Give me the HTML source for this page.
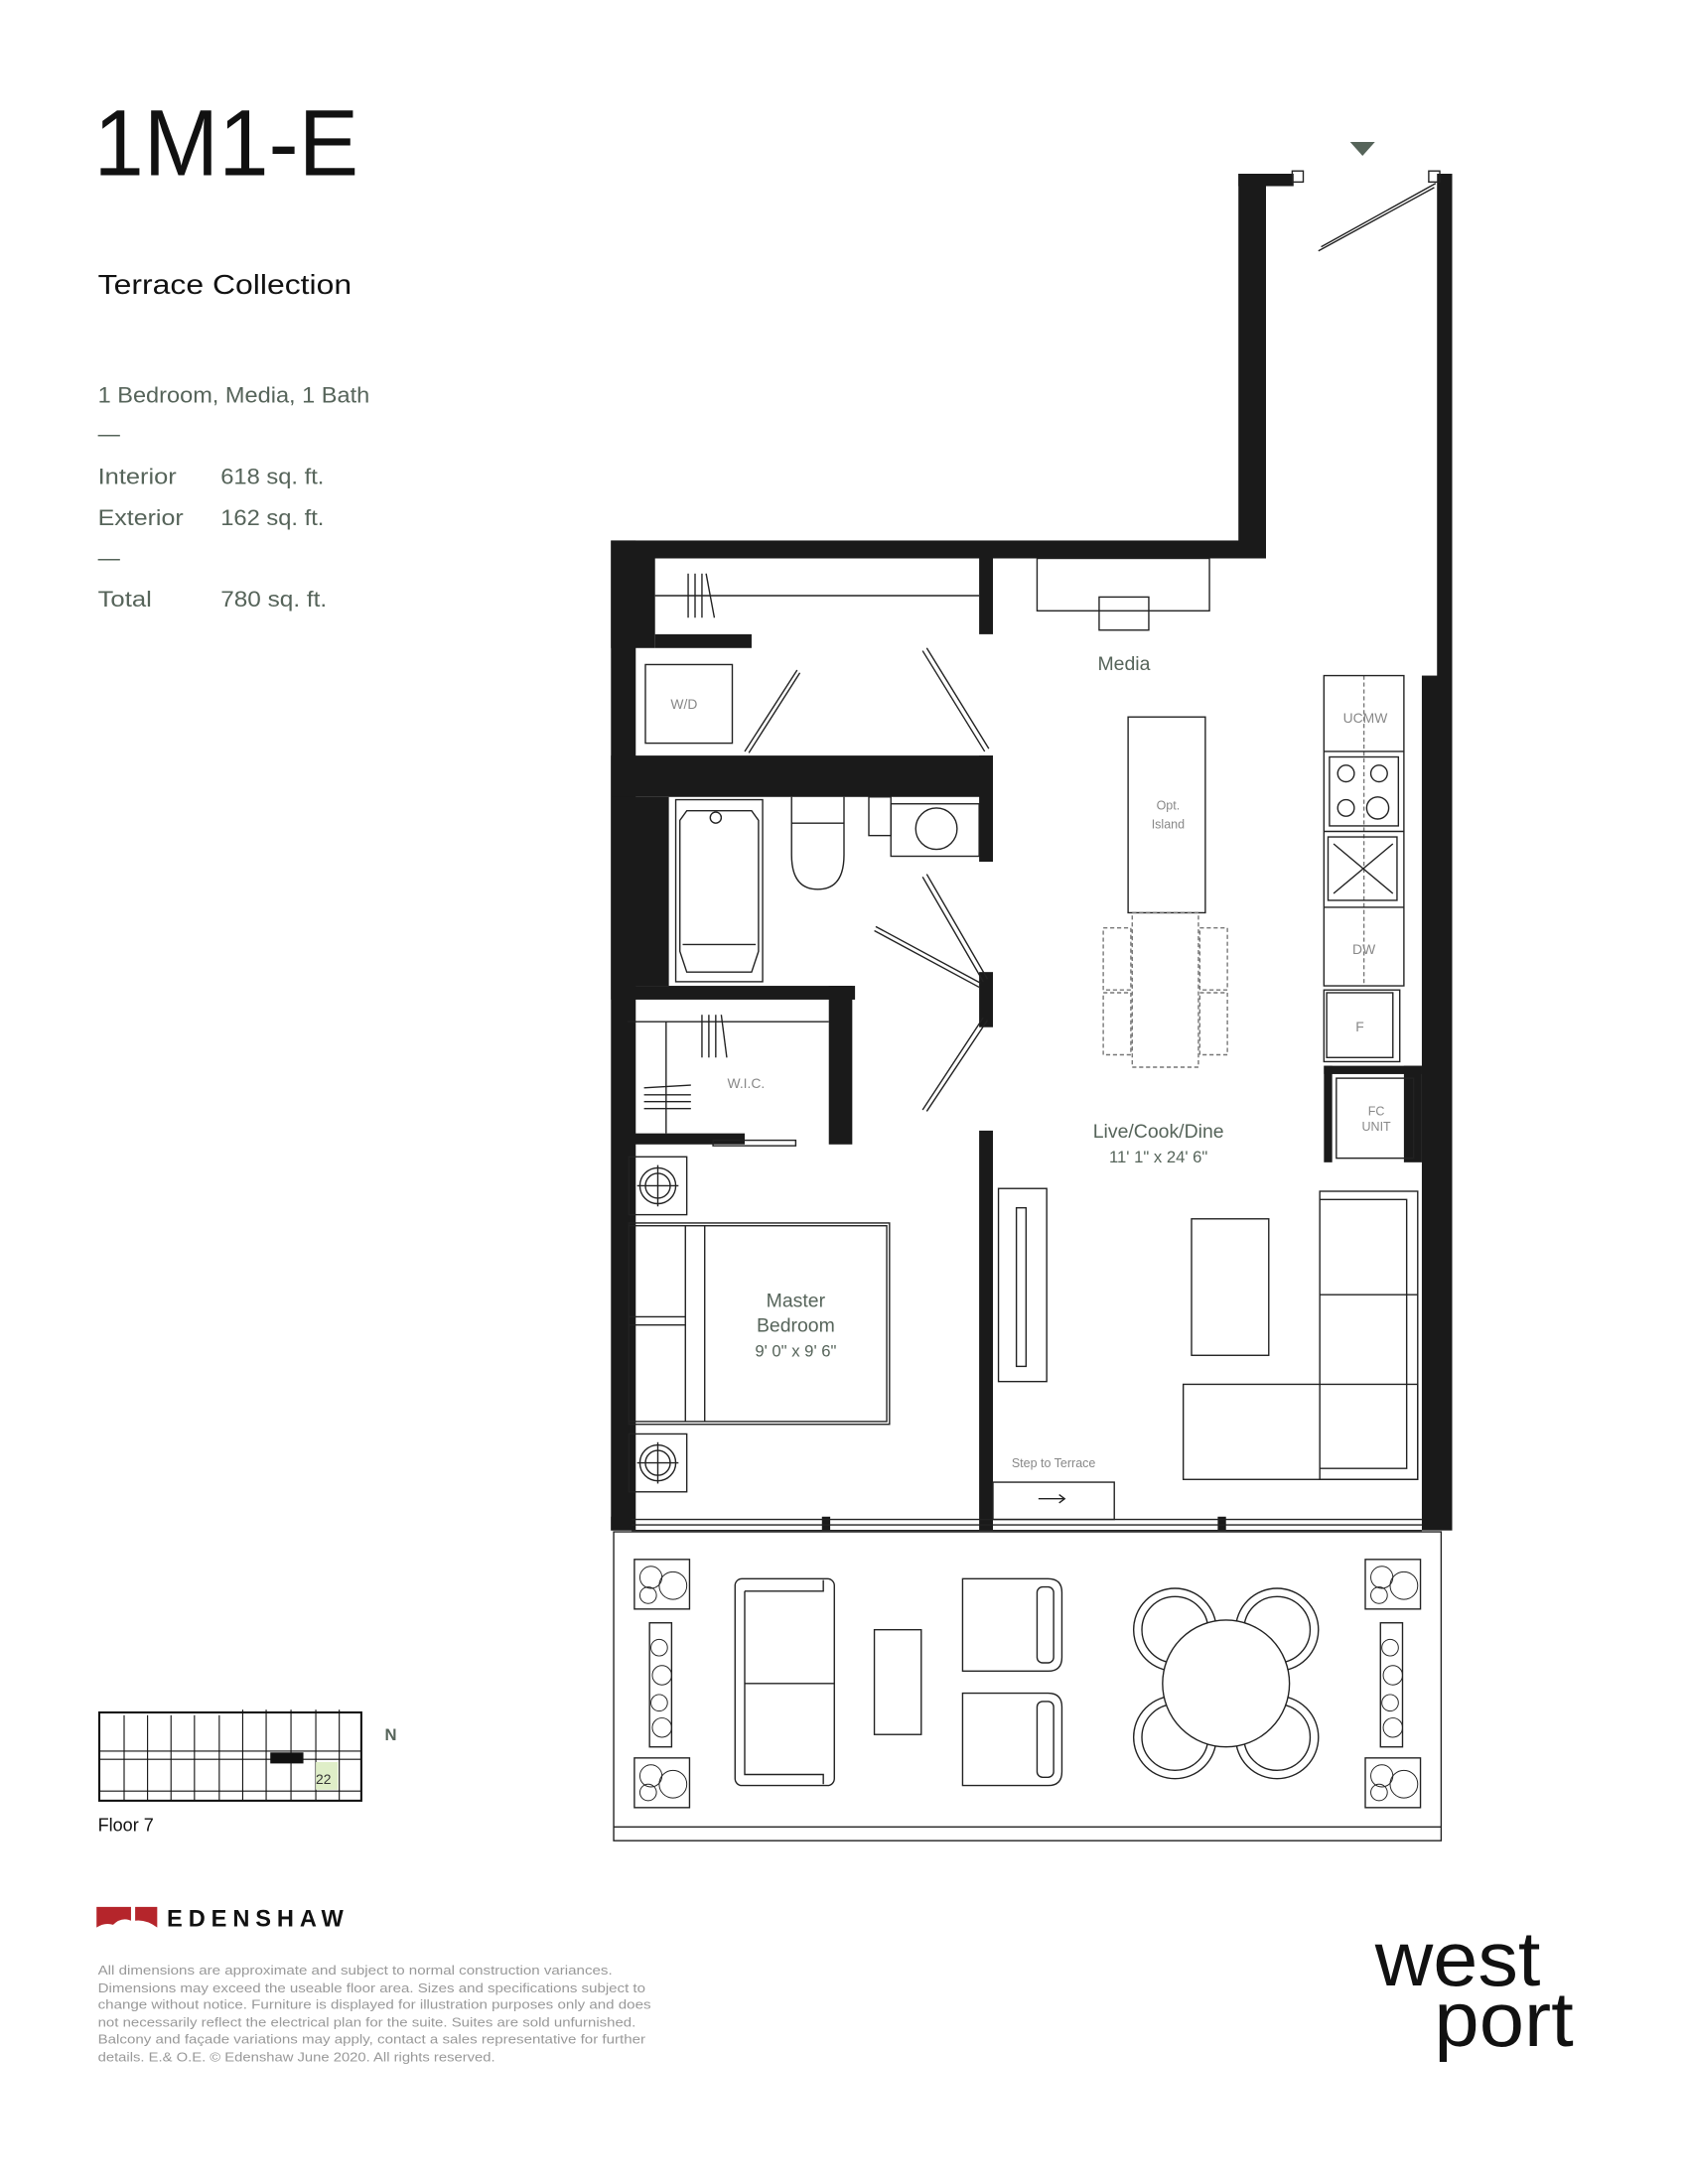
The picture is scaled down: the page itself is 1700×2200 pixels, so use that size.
<!DOCTYPE html>
<html><head><meta charset="utf-8"><style>
html,body{margin:0;padding:0;background:#fff;overflow:hidden;width:1700px;height:2200px;}
svg{display:block;position:absolute;left:0;top:0;}
text{font-family:"Liberation Sans",sans-serif;}
</style></head><body>
<svg width="1700" height="2200" viewBox="0 0 1224 1584" xmlns="http://www.w3.org/2000/svg">
<rect width="1224" height="1584" fill="#fff"/>
<text x="68" y="127" font-size="68" fill="#111" textLength="192" lengthAdjust="spacingAndGlyphs">1M1-E</text>
<text x="71" y="213" font-size="20" fill="#111" textLength="184" lengthAdjust="spacingAndGlyphs">Terrace Collection</text>
<g fill="#56645a" font-size="16">
<text x="71" y="292" textLength="197" lengthAdjust="spacingAndGlyphs">1 Bedroom, Media, 1 Bath</text>
<text x="71" y="320">—</text>
<text x="71" y="351" textLength="57" lengthAdjust="spacingAndGlyphs">Interior</text><text x="160" y="351" textLength="75" lengthAdjust="spacingAndGlyphs">618 sq. ft.</text>
<text x="71" y="381" textLength="62" lengthAdjust="spacingAndGlyphs">Exterior</text><text x="160" y="381" textLength="75" lengthAdjust="spacingAndGlyphs">162 sq. ft.</text>
<text x="71" y="410">—</text>
<text x="71" y="440" textLength="39" lengthAdjust="spacingAndGlyphs">Total</text><text x="160" y="440" textLength="77" lengthAdjust="spacingAndGlyphs">780 sq. ft.</text>
</g>

<polygon points="979,103 997,103 988,113" fill="#56645a"/>

<g fill="#1a1a1a">
<rect x="898" y="126" width="20" height="279"/>
<rect x="898" y="126" width="40" height="9"/>
<rect x="1042" y="126" width="11" height="365"/>
<rect x="1031" y="490" width="22" height="620"/>
<rect x="443" y="392" width="475" height="13"/>
<rect x="443" y="392" width="18" height="718"/>
<rect x="443" y="405" width="32" height="65"/>
<rect x="475" y="460" width="70" height="10"/>
<rect x="710" y="405" width="10" height="55"/>
<rect x="443" y="548" width="277" height="30"/>
<rect x="710" y="548" width="10" height="77"/>
<rect x="443" y="578" width="42" height="137"/>
<rect x="443" y="715" width="177" height="10"/>
<rect x="601" y="715" width="17" height="115"/>
<rect x="455" y="822" width="85" height="8"/>
<rect x="710" y="705" width="10" height="40"/>
<rect x="710" y="820" width="10" height="290"/>
<rect x="443" y="1100" width="15" height="10"/>
<rect x="596" y="1100" width="6" height="10"/>
<rect x="883" y="1100" width="6" height="10"/>
<rect x="1018" y="773" width="13" height="70"/>
<rect x="960" y="773" width="71" height="6"/>
<rect x="960" y="773" width="6" height="70"/>
</g>
<g fill="none" stroke="#222" stroke-width="1">
<line x1="458" y1="1102" x2="1031" y2="1102"/>
<line x1="458" y1="1106" x2="1031" y2="1106"/>
<line x1="458" y1="1110" x2="1031" y2="1110"/>
<line x1="956" y1="182" x2="1040" y2="136"/>
<line x1="958" y1="179" x2="1041" y2="133"/>
<rect x="937" y="124" width="8" height="8"/><rect x="1036" y="124" width="8" height="8"/>
<line x1="475" y1="432" x2="710" y2="432"/>
<line x1="499" y1="416" x2="499" y2="448"/><line x1="504" y1="416" x2="504" y2="448"/><line x1="509" y1="416" x2="509" y2="448"/><line x1="512" y1="416" x2="518" y2="448"/>
<rect x="752" y="405" width="125" height="38"/>
<rect x="797" y="433" width="36" height="24"/>
<rect x="468" y="482" width="63" height="57"/>
<line x1="540" y1="545" x2="578" y2="486"/><line x1="543" y1="546" x2="580" y2="488"/>
<line x1="669" y1="472" x2="714" y2="545"/><line x1="672" y1="470" x2="717" y2="543"/>
<line x1="669" y1="636" x2="713" y2="712"/><line x1="672" y1="634" x2="716" y2="710"/>
<line x1="634" y1="675" x2="710" y2="716"/><line x1="635" y1="672" x2="711" y2="713"/>
<line x1="669" y1="805" x2="713" y2="738"/><line x1="672" y1="806" x2="716" y2="740"/>
<rect x="490" y="580" width="63" height="132"/>
<path d="M498 588 L545 588 L550 595 L550 690 L545 705 L498 705 L493 690 L493 595 Z"/>
<line x1="495" y1="685" x2="548" y2="685"/>
<circle cx="519" cy="593" r="4"/>
<path d="M574 578 L574 620 Q574 645 593 645 Q612 645 612 620 L612 578"/>
<line x1="574" y1="597" x2="612" y2="597"/>
<rect x="630" y="578" width="16" height="28"/>
<rect x="646" y="583" width="64" height="38"/>
<circle cx="679" cy="601" r="15"/>
<line x1="455" y1="741" x2="601" y2="741"/>
<line x1="483" y1="741" x2="483" y2="822"/>
<line x1="509" y1="736" x2="509" y2="767"/><line x1="514" y1="736" x2="514" y2="767"/><line x1="519" y1="736" x2="519" y2="767"/><line x1="523" y1="736" x2="527" y2="767"/>
<line x1="467" y1="794" x2="501" y2="794"/><line x1="467" y1="799" x2="501" y2="799"/><line x1="467" y1="804" x2="501" y2="804"/><line x1="467" y1="789" x2="501" y2="787"/>
<rect x="517" y="827" width="60" height="4"/>
<rect x="818" y="520" width="56" height="142"/>
<g stroke-dasharray="3,2" stroke="#777">
<rect x="821" y="662" width="48" height="112"/>
<rect x="800" y="673" width="20" height="45"/><rect x="800" y="720" width="20" height="45"/>
<rect x="870" y="673" width="20" height="45"/><rect x="870" y="720" width="20" height="45"/>
<line x1="989" y1="490" x2="989" y2="715"/>
</g>
<rect x="960" y="490" width="58" height="225"/>
<line x1="960" y1="545" x2="1018" y2="545"/><line x1="960" y1="603" x2="1018" y2="603"/><line x1="960" y1="658" x2="1018" y2="658"/>
<rect x="964" y="549" width="50" height="50"/>
<circle cx="976" cy="561" r="6"/><circle cx="1000" cy="561" r="6"/><circle cx="976" cy="586" r="6"/><circle cx="999" cy="586" r="8"/>
<rect x="963" y="607" width="50" height="46"/><line x1="967" y1="612" x2="1010" y2="648"/><line x1="967" y1="648" x2="1010" y2="612"/>
<rect x="960" y="718" width="55" height="52"/><rect x="962" y="720" width="48" height="47"/>
<rect x="969" y="782" width="56" height="58"/>
<rect x="456" y="839" width="42" height="42"/><circle cx="477" cy="860" r="13"/><circle cx="477" cy="860" r="9"/><line x1="462" y1="860" x2="492" y2="860"/><line x1="477" y1="845" x2="477" y2="875"/>
<rect x="456" y="1040" width="42" height="42"/><circle cx="477" cy="1061" r="13"/><circle cx="477" cy="1061" r="9"/><line x1="462" y1="1061" x2="492" y2="1061"/><line x1="477" y1="1046" x2="477" y2="1076"/>
<rect x="456" y="887" width="189" height="146"/><rect x="456" y="889" width="187" height="142"/>
<line x1="497" y1="889" x2="497" y2="1031"/><line x1="511" y1="889" x2="511" y2="1031"/>
<line x1="456" y1="955" x2="497" y2="955"/><line x1="456" y1="961" x2="497" y2="961"/>
<rect x="724" y="862" width="35" height="140"/><rect x="737" y="876" width="7" height="115"/>
<rect x="864" y="884" width="56" height="99"/>
<rect x="957" y="864" width="71" height="209"/>
<path d="M957 870 L1020 870 L1020 1065 L957 1065"/>
<line x1="957" y1="939" x2="1028" y2="939"/>
<rect x="858" y="1004" width="170" height="69"/>
<rect x="720" y="1075" width="88" height="27"/>
<line x1="753" y1="1087" x2="772" y2="1087"/><path d="M768 1084 L772 1087 L768 1090"/>
<rect x="445" y="1111" width="600" height="224"/>
<line x1="445" y1="1325" x2="1045" y2="1325"/>
<rect x="533" y="1145" width="72" height="150" rx="5"/><path d="M540 1154 L597 1154 L597 1146 M540 1154 L540 1287 L597 1287 L597 1294"/><line x1="540" y1="1221" x2="605" y2="1221"/>
<rect x="634" y="1182" width="34" height="76"/>
<path d="M698 1145 L760 1145 Q770 1145 770 1155 L770 1202 Q770 1212 760 1212 L698 1212 Z"/><rect x="752" y="1151" width="12" height="55" rx="4"/>
<path d="M698 1228 L760 1228 Q770 1228 770 1238 L770 1285 Q770 1295 760 1295 L698 1295 Z"/><rect x="752" y="1234" width="12" height="55" rx="4"/>
<circle cx="852" cy="1182" r="30"/><circle cx="926" cy="1182" r="30"/><circle cx="852" cy="1260" r="30"/><circle cx="926" cy="1260" r="30"/>
<circle cx="852" cy="1182" r="24"/><circle cx="926" cy="1182" r="24"/><circle cx="852" cy="1260" r="24"/><circle cx="926" cy="1260" r="24"/>
<rect x="460" y="1131" width="40" height="36"/><rect x="471" y="1177" width="16" height="90"/><rect x="460" y="1275" width="40" height="36"/>
<rect x="990" y="1131" width="40" height="36"/><rect x="1001" y="1177" width="16" height="90"/><rect x="990" y="1275" width="40" height="36"/>
</g>
<circle cx="889" cy="1221" r="46" fill="#fff" stroke="#222"/>
<g fill="none" stroke="#222" stroke-width="0.7">
<circle cx="472" cy="1144" r="8"/><circle cx="488" cy="1150" r="10"/><circle cx="470" cy="1157" r="6"/>
<circle cx="478" cy="1195" r="6"/><circle cx="480" cy="1215" r="7"/><circle cx="478" cy="1235" r="6"/><circle cx="480" cy="1253" r="7"/>
<circle cx="472" cy="1288" r="8"/><circle cx="488" cy="1294" r="10"/><circle cx="470" cy="1300" r="6"/>
<circle cx="1002" cy="1144" r="8"/><circle cx="1018" cy="1150" r="10"/><circle cx="1000" cy="1157" r="6"/>
<circle cx="1008" cy="1195" r="6"/><circle cx="1010" cy="1215" r="7"/><circle cx="1008" cy="1235" r="6"/><circle cx="1010" cy="1253" r="7"/>
<circle cx="1002" cy="1288" r="8"/><circle cx="1018" cy="1294" r="10"/><circle cx="1000" cy="1300" r="6"/>
</g>
<g fill="#56645a" text-anchor="middle">
<text x="815" y="486" font-size="14">Media</text>
<text x="840" y="825" font-size="14">Live/Cook/Dine</text>
<text x="840" y="843" font-size="12">11' 1" x 24' 6"</text>
<text x="577" y="948" font-size="14">Master</text>
<text x="577" y="966" font-size="14">Bedroom</text>
<text x="577" y="984" font-size="12">9' 0" x 9' 6"</text>
</g>
<g fill="#888" text-anchor="middle" font-size="10">
<text x="496" y="514">W/D</text>
<text x="541" y="789">W.I.C.</text>
<text x="847" y="587" font-size="9">Opt.</text><text x="847" y="601" font-size="9">Island</text>
<text x="990" y="524">UCMW</text>
<text x="989" y="692">DW</text>
<text x="986" y="748">F</text>
<text x="998" y="809" font-size="9">FC</text><text x="998" y="820" font-size="9">UNIT</text>
<text x="764" y="1064" font-size="9">Step to Terrace</text>
</g>

<g fill="none" stroke="#111" stroke-width="1.5">
<rect x="72" y="1242" width="190" height="64"/>
</g>
<g fill="none" stroke="#111" stroke-width="0.8">
<line x1="72" y1="1270" x2="262" y2="1270"/><line x1="72" y1="1276" x2="262" y2="1276"/>
<line x1="90" y1="1244" x2="90" y2="1306"/><line x1="107" y1="1244" x2="107" y2="1306"/><line x1="124" y1="1244" x2="124" y2="1306"/><line x1="141" y1="1244" x2="141" y2="1306"/><line x1="159" y1="1244" x2="159" y2="1306"/><line x1="176" y1="1240" x2="176" y2="1306"/><line x1="193" y1="1240" x2="193" y2="1306"/><line x1="211" y1="1240" x2="211" y2="1306"/><line x1="229" y1="1240" x2="229" y2="1306"/><line x1="246" y1="1240" x2="246" y2="1306"/>
<line x1="72" y1="1299" x2="262" y2="1299"/>
</g>
<rect x="229" y="1278" width="16" height="20" fill="#dfeec8"/>
<rect x="196" y="1271" width="24" height="8" fill="#111"/>
<text x="229" y="1294" font-size="10" fill="#333">22</text>
<text x="279" y="1262" font-size="12" fill="#56645a" font-weight="bold">N</text>
<text x="71" y="1328" font-size="13" fill="#111">Floor 7</text>

<path d="M70 1383 L95 1383 L95 1393 Q88 1390 82 1396 Q76 1394 70 1398 Z M98 1383 L114 1383 L114 1398 Q106 1392 98 1393 Z" fill="#b5252b"/>
<text x="121" y="1397" font-size="17" fill="#111" font-weight="bold" textLength="128" lengthAdjust="spacing">EDENSHAW</text>
<g fill="#999" font-size="9.5">
<text x="71" y="1432" textLength="373" lengthAdjust="spacingAndGlyphs">All dimensions are approximate and subject to normal construction variances.</text>
<text x="71" y="1445" textLength="397" lengthAdjust="spacingAndGlyphs">Dimensions may exceed the useable floor area. Sizes and specifications subject to</text>
<text x="71" y="1457" textLength="401" lengthAdjust="spacingAndGlyphs">change without notice. Furniture is displayed for illustration purposes only and does</text>
<text x="71" y="1470" textLength="390" lengthAdjust="spacingAndGlyphs">not necessarily reflect the electrical plan for the suite. Suites are sold unfurnished.</text>
<text x="71" y="1482" textLength="397" lengthAdjust="spacingAndGlyphs">Balcony and façade variations may apply, contact a sales representative for further</text>
<text x="71" y="1495" textLength="288" lengthAdjust="spacingAndGlyphs">details. E.&amp; O.E. © Edenshaw June 2020. All rights reserved.</text>
</g>
<text x="997" y="1440" font-size="56" fill="#111" textLength="120" lengthAdjust="spacingAndGlyphs">west</text>
<text x="1040" y="1484" font-size="56" fill="#111" textLength="101" lengthAdjust="spacingAndGlyphs">port</text>
</svg>
</body></html>
